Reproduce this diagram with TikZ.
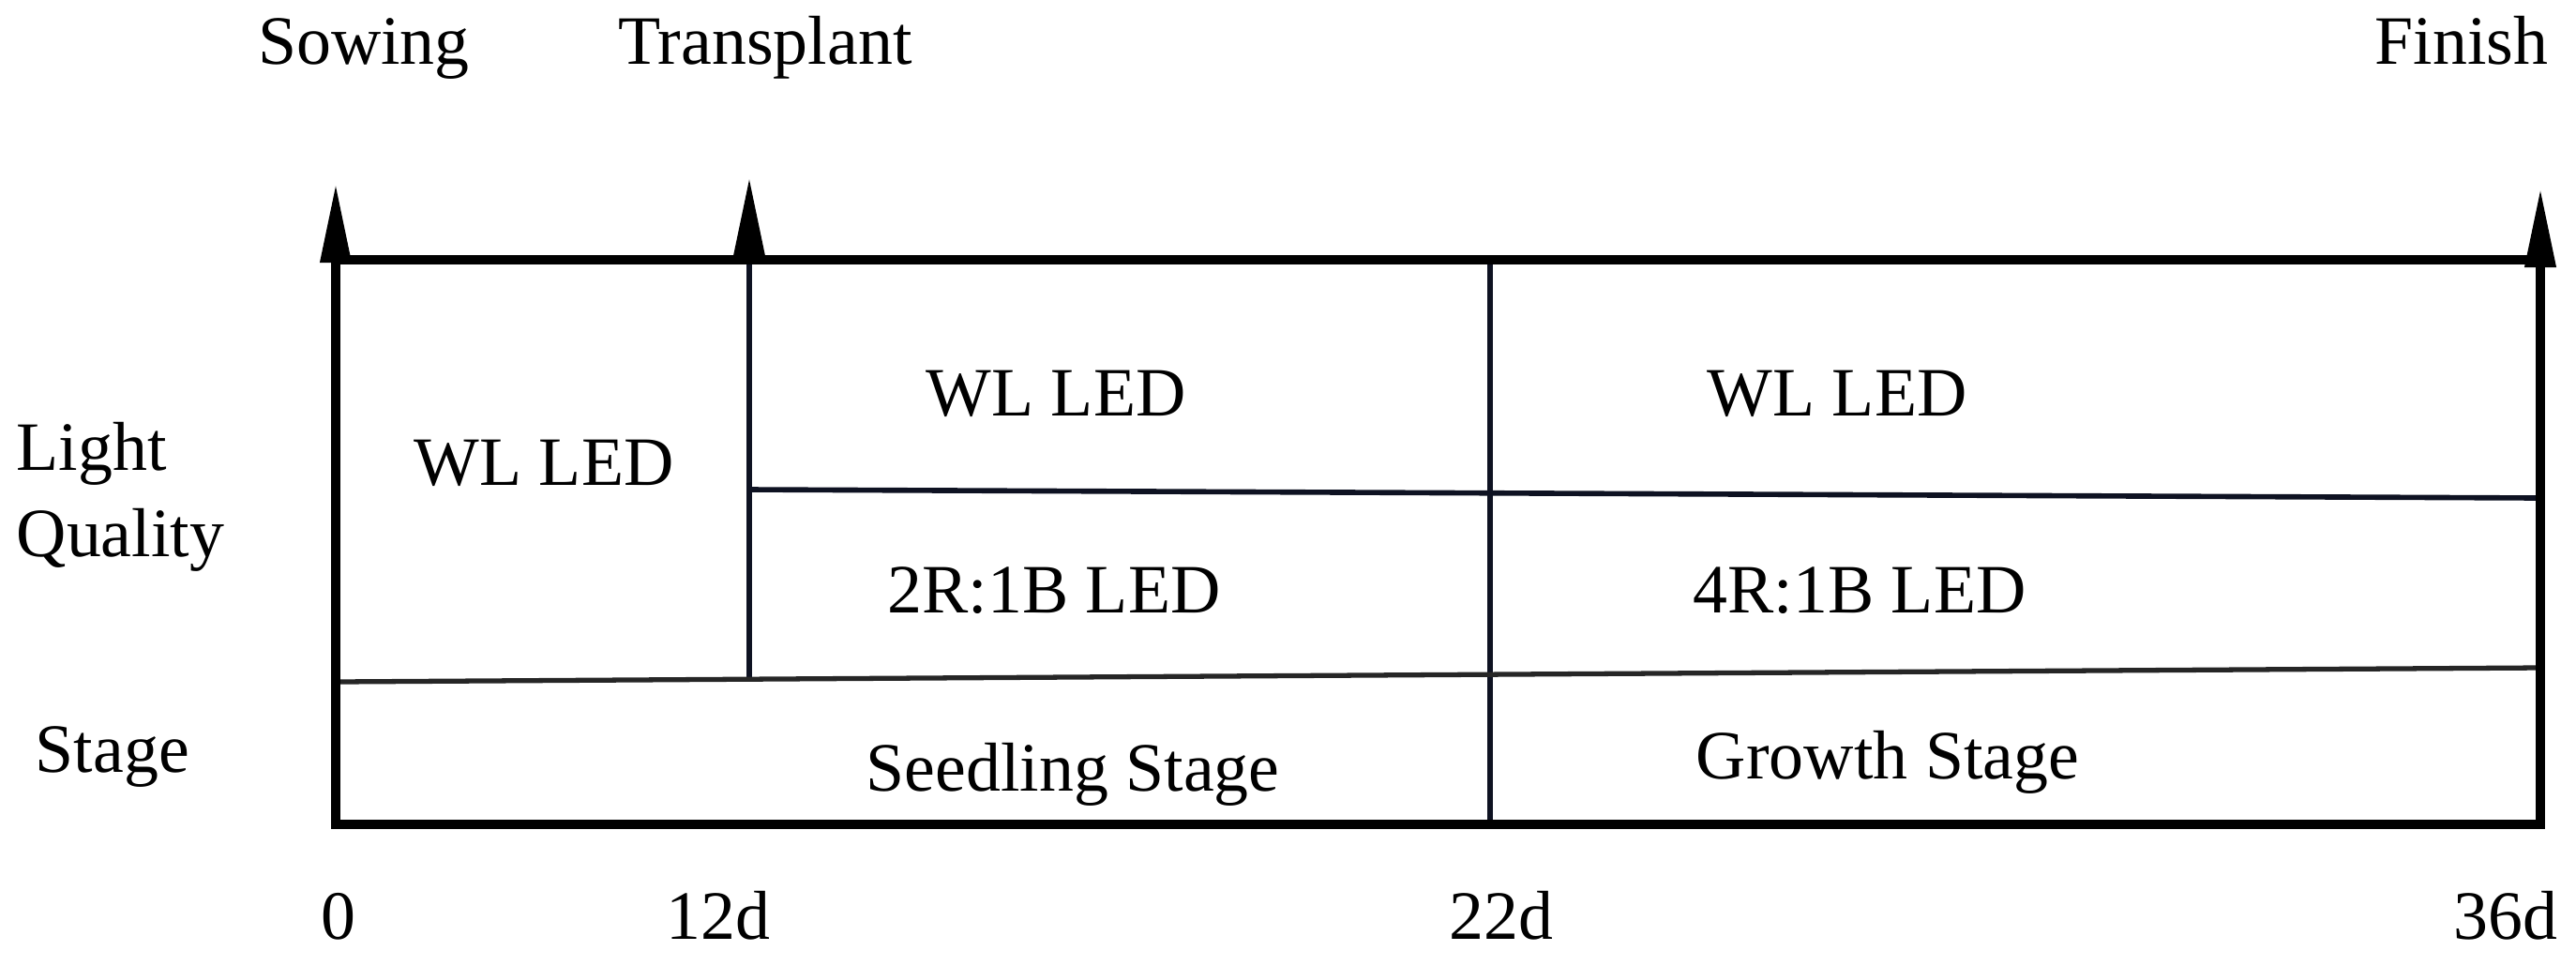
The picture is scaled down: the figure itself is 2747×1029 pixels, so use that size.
\documentclass[tikz,border=0pt]{standalone}
\usepackage{fontspec}
\setmainfont{Liberation Serif}
\usetikzlibrary{arrows.meta}
\definecolor{thinc}{RGB}{14,18,34}
\begin{document}
\begin{tikzpicture}[x=0.01cm,y=-0.01cm,
  lbl/.style={font=\fontsize{21}{25}\selectfont, inner sep=0pt, anchor=base},
  lblw/.style={lbl, anchor=base west},
  boxline/.style={line width=2.85pt, line join=miter},
  thinline/.style={line width=1.6pt, draw=thinc},
  stageline/.style={line width=1.5pt, draw=black!85},
  uptip/.style={-{Triangle[length=0.85cm,width=0.31cm]}, line width=2.85pt}]
\useasboundingbox (0,0) rectangle (2747,1029);
% corners and division points
\coordinate (tl) at (358,277);
\coordinate (tr) at (2709,277);
\coordinate (bl) at (358,879);
\coordinate (br) at (2709,879);
\coordinate (t12) at (799,277);
\coordinate (t22) at (1589,277);
\coordinate (b22) at (1589,879);
\coordinate (s0) at (358,727);
\coordinate (s12) at (799,724);
\coordinate (s36) at (2709,712);
\coordinate (m12) at (799,522);
\coordinate (m36) at (2709,531);
\coordinate (a0) at (358,195);
\coordinate (a12) at (799,188);
\coordinate (a36) at (2709,200);
% inner lines
\draw[thinline] (t12) -- (s12);
\draw[thinline] (t22) -- (b22);
\draw[thinline] (m12) -- (m36);
\draw[stageline] (s0) -- (s36);
% frame
\draw[boxline] (tl) rectangle (br);
% arrows
\draw[uptip] (tl) -- (a0);
\draw[uptip] (t12) -- (a12);
\draw[uptip] (tr) -- (a36);
% labels
\node[lbl] (sow) at (388,68) {Sowing};
\node[lbl] (trans) at (816,68) {Transplant};
\node[lbl] (fin) at (2625,68) {Finish};
\node[lblw] (lq1) at (17,501) {Light};
\node[lblw] (lq2) at (17,593) {Quality};
\node[lblw] (stg) at (37,823) {Stage};
\node[lbl] (wl1) at (580,517) {WL LED};
\node[lbl] (wl2) at (1126,443) {WL LED};
\node[lbl] (wl3) at (1959,443) {WL LED};
\node[lbl] (rb2) at (1124,653) {2R:1B LED};
\node[lbl] (rb4) at (1983,653) {4R:1B LED};
\node[lbl] (seed) at (1144,843) {Seedling Stage};
\node[lbl] (grow) at (2013,830) {Growth Stage};
\node[lbl] (d0) at (361,1001) {0};
\node[lbl] (d12) at (766,1001) {12d};
\node[lbl] (d22) at (1601,1001) {22d};
\node[lbl] (d36) at (2672,1001) {36d};
\end{tikzpicture}
\end{document}
